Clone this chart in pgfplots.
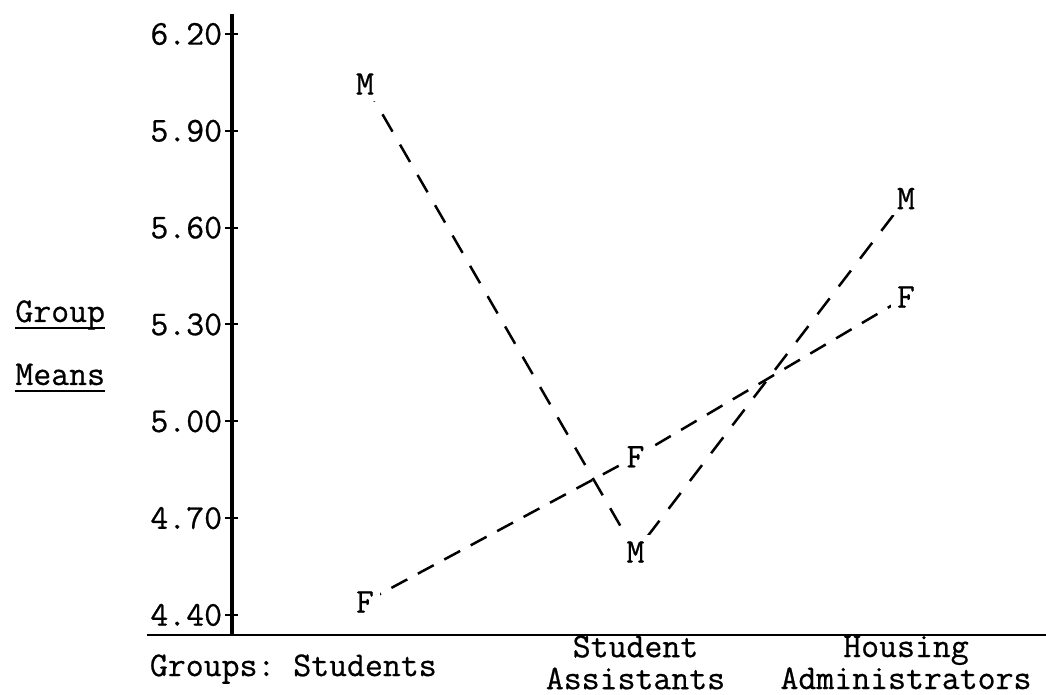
\documentclass[border=0pt]{standalone}
\usepackage{fontspec}
\newfontfamily\twf{Latin Modern Mono}[FakeBold=0.6]
\usepackage{pgfplots}
\pgfplotsset{compat=1.18}
\newcommand\tw{\twf\fontsize{17.4pt}{16pt}\selectfont}
\newcommand\tul[1]{\setbox0\hbox{#1}\rlap{\rule[-3.5pt]{\wd0}{0.9pt}}\box0}
\begin{document}
\begin{tikzpicture}
\begin{axis}[
  at={(116pt,30pt)}, anchor=south west,
  width=407pt, height=310.5pt, scale only axis,
  xmin=-0.4917, xmax=2.5176, ymin=4.338, ymax=6.262,
  axis x line=bottom, axis y line=left,
  x axis line style={-, line width=1.3pt},
  y axis line style={-, line width=2.2pt},
  clip=false,
  xtick={0,1,2},
  xticklabels={{\raisebox{-6.8pt}[8pt][8pt]{\llap{Groups:\ }Students}},{Student\\Assistants},{Housing\\Administrators}},
  xticklabel style={align=center, anchor=center, yshift=-10.5pt, font=\tw},
  xtick style={draw=none},
  ytick={4.4,4.7,5.0,5.3,5.6,5.9,6.2},
  yticklabels={4.40,4.70,5.00,5.30,5.60,5.90,6.20},
  yticklabel style={anchor=east, inner sep=0pt, xshift=-1.5pt, font=\tw},
  ytick style={line width=1pt, black},
  major tick length=6.5pt, ytick align=center,
  every axis plot/.append style={black, line width=1.25pt},
]
\addplot[dash pattern=on 10pt off 7.5pt, mark=text, text mark={M}, text mark as node=true,
  text mark style={solid, fill=white, inner sep=3pt, font=\tw}]
  coordinates {(0,6.045) (1,4.595) (2,5.69)};
\addplot[dash pattern=on 9pt off 6pt, mark=text, text mark={F}, text mark as node=true,
  text mark style={solid, fill=white, inner sep=3pt, font=\tw}]
  coordinates {(0,4.44) (1,4.89) (2,5.385)};
\draw[line width=1.3pt] (axis cs:-0.806,4.338) -- (axis cs:-0.4917,4.338);
\end{axis}
\node[anchor=base west, inner sep=0pt, font=\tw] at (7.5pt,186.5pt) {\tul{Group}};
\node[anchor=base west, inner sep=0pt, font=\tw] at (7.5pt,155pt) {\tul{Means}};
\pgfresetboundingbox
\useasboundingbox (0,0) rectangle (523pt,347.5pt);
\end{tikzpicture}
\end{document}
